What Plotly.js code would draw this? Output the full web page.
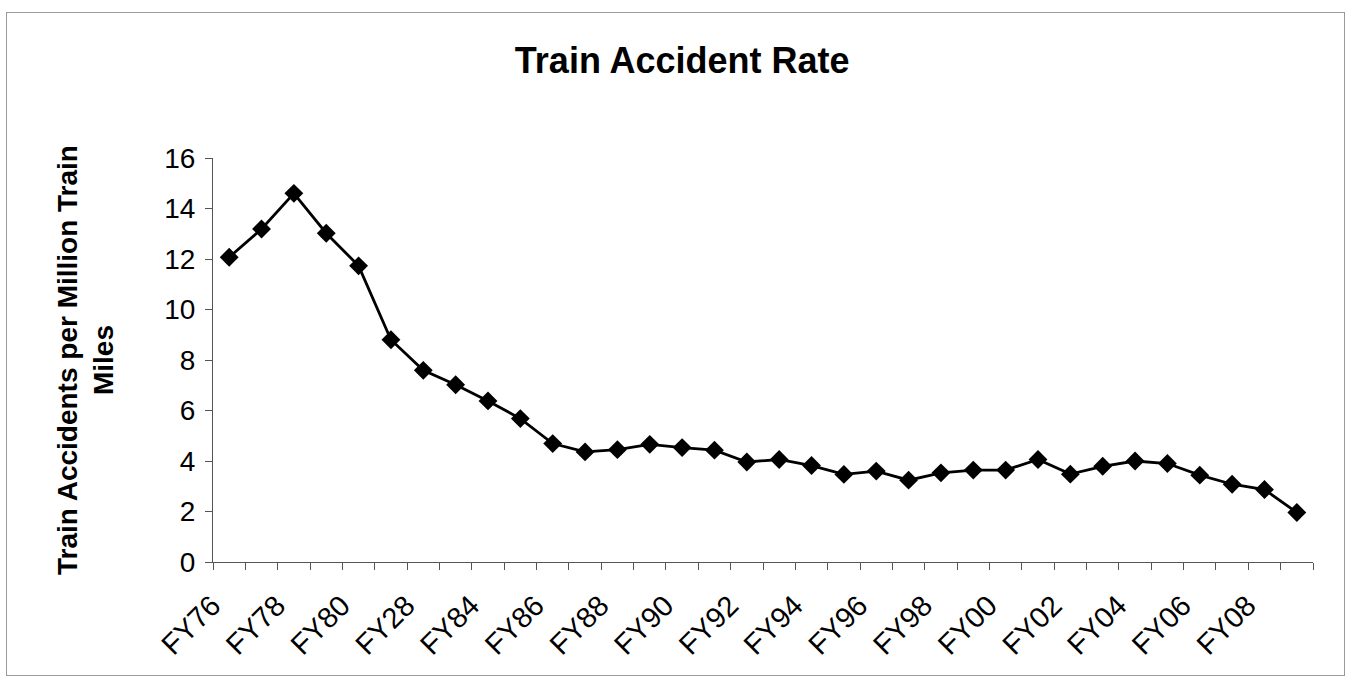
<!DOCTYPE html>
<html>
<head>
<meta charset="utf-8">
<script src="https://cdn.plot.ly/plotly-3.0.1.min.js"></script>
<style>
  html, body { margin: 0; padding: 0; background: #fff; }
  #wrap { position: relative; width: 1351px; height: 681px; }
  #chart { width: 1351px; height: 681px; }
  #frame { position: absolute; left: 6px; top: 12px; width: 1337px; height: 662px;
           border: 1px solid #9a9a9a; pointer-events: none; }
</style>
</head>
<body>
<div id="wrap"><div id="chart"></div><div id="frame"></div></div>
<script>
const categories = ["FY76","FY77","FY78","FY79","FY80","FY81","FY82","FY83","FY84","FY85",
  "FY86","FY87","FY88","FY89","FY90","FY91","FY92","FY93","FY94","FY95","FY96","FY97",
  "FY98","FY99","FY00","FY01","FY02","FY03","FY04","FY05","FY06","FY07","FY08","FY09"];
const accidentRate = [12.07, 13.19, 14.6, 13.02, 11.73, 8.8, 7.59, 7.02, 6.38, 5.68,
  4.69, 4.36, 4.45, 4.66, 4.53, 4.43, 3.96, 4.06, 3.82, 3.47, 3.6, 3.24,
  3.53, 3.64, 3.64, 4.06, 3.48, 3.79, 4.0, 3.9, 3.44, 3.08, 2.87, 1.96];
const tickLabels = ["FY76","","FY78","","FY80","","FY28","","FY84","","FY86","","FY88","",
  "FY90","","FY92","","FY94","","FY96","","FY98","","FY00","","FY02","","FY04","",
  "FY06","","FY08",""];
const yTicks = [0, 2, 4, 6, 8, 10, 12, 14, 16];

const font = "Liberation Sans, Arial, sans-serif";

const trace = {
  type: "scatter",
  mode: "lines+markers",
  x: categories,
  y: accidentRate,
  line: { color: "#000", width: 2.8 },
  marker: { symbol: "diamond", size: 14.5, color: "#000" },
  hoverinfo: "x+y"
};

const layout = {
  width: 1351, height: 681,
  paper_bgcolor: "#fff", plot_bgcolor: "#fff",
  margin: { l: 213, r: 38, t: 158, b: 119 },
  showlegend: false,
  title: {
    text: "<b>Train Accident Rate</b>",
    font: { family: font, size: 36, color: "#000" },
    x: 0.505, xref: "container", xanchor: "center",
    y: 0.912, yref: "container", yanchor: "middle"
  },
  xaxis: {
    type: "category",
    tickmode: "array",
    tickvals: categories,
    ticktext: tickLabels,
    tickson: "boundaries",
    ticks: "outside", ticklen: 7, tickcolor: "#555", tickwidth: 1,
    tickangle: -45,
    ticklabelshift: -17,
    ticklabelstandoff: 14,
    tickfont: { family: font, size: 29, color: "#000" },
    showline: true, linecolor: "#555", linewidth: 1,
    showgrid: false, zeroline: false,
    range: [-0.5, categories.length - 0.5]
  },
  yaxis: {
    range: [0, 16],
    tickmode: "array",
    tickvals: yTicks,
    ticks: "outside", ticklen: 7, tickcolor: "#555", tickwidth: 1,
    ticklabelstandoff: 4,
    tickfont: { family: font, size: 28, color: "#000" },
    showline: true, linecolor: "#555", linewidth: 1,
    showgrid: false, zeroline: false,
    title: {
      text: "<b>Train Accidents per Million Train<br>Miles</b>",
      font: { family: font, size: 28, color: "#000" },
      standoff: 42
    }
  }
};

Plotly.newPlot("chart", [trace], layout, { displayModeBar: false, staticPlot: true });
</script>
</body>
</html>
